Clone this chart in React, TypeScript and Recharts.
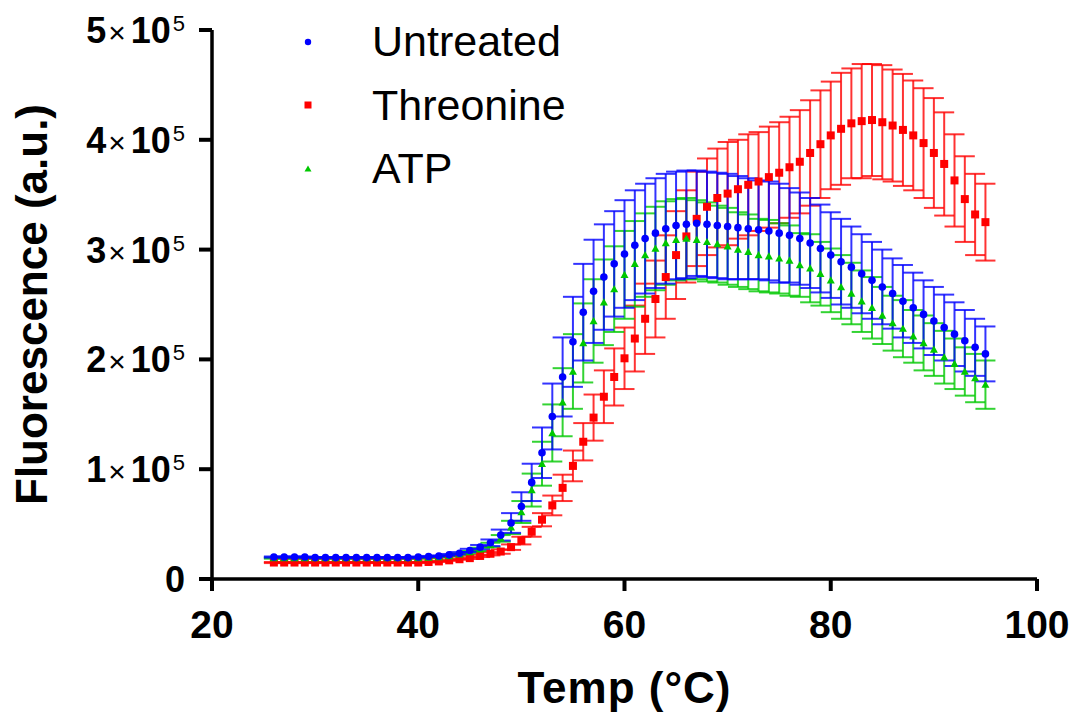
import React from 'react';
import { ScatterChart, Scatter, XAxis, YAxis, ErrorBar, Legend, Label } from 'recharts';

const FONT = '"Liberation Sans", Arial, Helvetica, sans-serif';

const BLUE = '#0000FF';
const RED = '#FF0000';
const GREEN = '#00C800';

// Temperatures (°C), one reading per degree
const temps = [
  26, 27, 28, 29, 30, 31, 32, 33, 34, 35,
  36, 37, 38, 39, 40, 41, 42, 43, 44, 45,
  46, 47, 48, 49, 50, 51, 52, 53, 54, 55,
  56, 57, 58, 59, 60, 61, 62, 63, 64, 65,
  66, 67, 68, 69, 70, 71, 72, 73, 74, 75,
  76, 77, 78, 79, 80, 81, 82, 83, 84, 85,
  86, 87, 88, 89, 90, 91, 92, 93, 94, 95,
];

// Fluorescence values, in units of 10^5 a.u.
const untreated = [
  0.20, 0.20, 0.20, 0.20, 0.195, 0.195, 0.195, 0.195, 0.195, 0.195,
  0.195, 0.195, 0.195, 0.195, 0.20, 0.205, 0.21, 0.22, 0.235, 0.26,
  0.29, 0.33, 0.40, 0.51, 0.66, 0.88, 1.15, 1.48, 1.84, 2.16,
  2.43, 2.62, 2.75, 2.87, 2.96, 3.04, 3.10, 3.15, 3.19, 3.22,
  3.23, 3.24, 3.23, 3.22, 3.21, 3.20, 3.19, 3.18, 3.17, 3.15,
  3.13, 3.10, 3.06, 3.01, 2.95, 2.89, 2.84, 2.78, 2.72, 2.66,
  2.60, 2.53, 2.47, 2.41, 2.35, 2.29, 2.23, 2.17, 2.11, 2.05,
];
const untreatedErr = [
  0.005, 0.005, 0.005, 0.005, 0.005, 0.005, 0.005, 0.005, 0.005, 0.005,
  0.005, 0.005, 0.005, 0.005, 0.005, 0.005, 0.005, 0.008, 0.01, 0.015,
  0.02, 0.03, 0.05, 0.09, 0.13, 0.17, 0.23, 0.30, 0.36, 0.41,
  0.44, 0.47, 0.48, 0.48, 0.49, 0.50, 0.50, 0.50, 0.50, 0.49,
  0.49, 0.48, 0.48, 0.48, 0.48, 0.47, 0.46, 0.45, 0.45, 0.45,
  0.43, 0.42, 0.41, 0.40, 0.39, 0.39, 0.37, 0.36, 0.35, 0.34,
  0.32, 0.33, 0.32, 0.31, 0.31, 0.30, 0.29, 0.28, 0.26, 0.25,
];

const threonine = [
  0.15, 0.15, 0.15, 0.15, 0.15, 0.15, 0.15, 0.15, 0.15, 0.15,
  0.15, 0.15, 0.15, 0.15, 0.15, 0.155, 0.16, 0.17, 0.18, 0.19,
  0.21, 0.23, 0.25, 0.29, 0.35, 0.43, 0.54, 0.67, 0.83, 1.03,
  1.25, 1.47, 1.66, 1.84, 2.01, 2.19, 2.37, 2.55, 2.75, 2.95,
  3.12, 3.28, 3.39, 3.47, 3.51, 3.55, 3.59, 3.62, 3.66, 3.70,
  3.75, 3.80, 3.88, 3.96, 4.04, 4.10, 4.15, 4.17, 4.18, 4.16,
  4.13, 4.09, 4.04, 3.97, 3.88, 3.78, 3.63, 3.46, 3.32, 3.25,
];
const threonineErr = [
  0.005, 0.005, 0.005, 0.005, 0.005, 0.005, 0.005, 0.005, 0.005, 0.005,
  0.005, 0.005, 0.005, 0.005, 0.005, 0.005, 0.005, 0.005, 0.005, 0.008,
  0.01, 0.015, 0.02, 0.025, 0.035, 0.045, 0.06, 0.09, 0.12, 0.14,
  0.17, 0.21, 0.24, 0.26, 0.28, 0.30, 0.32, 0.35, 0.38, 0.40,
  0.42, 0.43, 0.44, 0.45, 0.47, 0.45, 0.46, 0.45, 0.46, 0.46,
  0.46, 0.47, 0.48, 0.49, 0.49, 0.51, 0.50, 0.52, 0.51, 0.52,
  0.51, 0.51, 0.50, 0.50, 0.50, 0.47, 0.42, 0.39, 0.37, 0.35,
];

const atp = [
  0.19, 0.19, 0.19, 0.19, 0.19, 0.19, 0.19, 0.19, 0.19, 0.19,
  0.19, 0.19, 0.19, 0.19, 0.19, 0.195, 0.20, 0.21, 0.225, 0.245,
  0.27, 0.31, 0.37, 0.47, 0.61, 0.81, 1.05, 1.33, 1.61, 1.89,
  2.15, 2.35, 2.52, 2.64, 2.77, 2.87, 2.95, 3.01, 3.06, 3.09,
  3.10, 3.09, 3.07, 3.05, 3.03, 3.00, 2.98, 2.95, 2.94, 2.92,
  2.90, 2.86, 2.83, 2.78, 2.72, 2.66, 2.60, 2.53, 2.47, 2.40,
  2.33, 2.28, 2.21, 2.15, 2.09, 2.02, 1.96, 1.89, 1.83, 1.77,
];
const atpErr = [
  0.005, 0.005, 0.005, 0.005, 0.005, 0.005, 0.005, 0.005, 0.005, 0.005,
  0.005, 0.005, 0.005, 0.005, 0.005, 0.005, 0.005, 0.005, 0.008, 0.01,
  0.015, 0.02, 0.03, 0.06, 0.10, 0.15, 0.20, 0.26, 0.31, 0.34,
  0.36, 0.38, 0.39, 0.39, 0.40, 0.39, 0.38, 0.38, 0.38, 0.37,
  0.37, 0.36, 0.36, 0.35, 0.35, 0.34, 0.34, 0.33, 0.33, 0.32,
  0.32, 0.29, 0.31, 0.29, 0.29, 0.29, 0.28, 0.28, 0.28, 0.26,
  0.25, 0.26, 0.24, 0.25, 0.24, 0.24, 0.23, 0.22, 0.22, 0.22,
];

const xTicks = [20, 40, 60, 80, 100];
const yTicks = [0, 1, 2, 3, 4, 5];

const toPoints = (vals: number[], errs: number[]) =>
  temps.map((t, i) => ({ temp: t, value: vals[i], err: errs[i] }));

const untreatedData = toPoints(untreated, untreatedErr);
const threonineData = toPoints(threonine, threonineErr);
const atpData = toPoints(atp, atpErr);

// Marker shapes
const BlueDot = (p: any) => <circle cx={p.cx} cy={p.cy} r={3.8} fill={BLUE} />;
const RedSquare = (p: any) => (
  <rect x={p.cx - 4} y={p.cy - 4} width={8} height={8} fill={RED} />
);
const GreenTriangle = (p: any) => (
  <polygon
    points={`${p.cx},${p.cy - 4} ${p.cx + 4},${p.cy + 3.2} ${p.cx - 4},${p.cy + 3.2}`}
    fill={GREEN}
  />
);

const YTick = ({ x, y, payload }: any) => {
  const v = payload.value;
  if (v === 0) {
    return (
      <text x={x} y={y} dy={13} textAnchor="end" fontFamily={FONT} fontWeight="bold" fontSize={36} fill="#000">
        0
      </text>
    );
  }
  return (
    <text x={x} y={y} dy={13} textAnchor="end" fontFamily={FONT} fill="#000">
      <tspan fontSize={36} fontWeight="bold">{v}</tspan>
      <tspan fontSize={30} dx={2}>×</tspan>
      <tspan fontSize={36} fontWeight="bold" dx={5}>10</tspan>
      <tspan fontSize={22} dx={2} dy={-12}>5</tspan>
    </text>
  );
};

const XTick = ({ x, y, payload }: any) => (
  <text x={x} y={y} dy={28} textAnchor="middle" fontFamily={FONT} fontWeight="bold" fontSize={39} fill="#000">
    {payload.value}
  </text>
);

const XTitle = (props: any) => {
  const { x, y, width } = props.viewBox;
  return (
    <text
      x={x + width / 2}
      y={y + 124}
      textAnchor="middle"
      fontFamily={FONT}
      fontWeight="bold"
      fontSize={44}
      letterSpacing={1}
      fill="#000"
    >
      Temp (°C)
    </text>
  );
};

const YTitle = (props: any) => {
  const { y, height } = props.viewBox;
  const cx = 39;
  const cy = y + height / 2;
  return (
    <text
      x={cx}
      y={cy}
      transform={`rotate(-90, ${cx}, ${cy})`}
      textAnchor="middle"
      fontFamily={FONT}
      fontWeight="bold"
      fontSize={44}
      fill="#000"
    >
      Fluorescence (a.u.)
    </text>
  );
};

const legendItems = [
  { name: 'Untreated', marker: <circle cx={10} cy={10} r={3.2} fill={BLUE} /> },
  { name: 'Threonine', marker: <rect x={6.5} y={6.5} width={7} height={7} fill={RED} /> },
  { name: 'ATP', marker: <polygon points="10,6.5 13.5,12.5 6.5,12.5" fill={GREEN} /> },
];

const LegendContent = () => (
  <div>
    {legendItems.map((item) => (
      <div key={item.name} style={{ display: 'flex', alignItems: 'center', height: 63.5 }}>
        <svg width={20} height={20}>{item.marker}</svg>
        <span style={{ marginLeft: 54, fontFamily: FONT, fontSize: 43, lineHeight: 1, color: '#000' }}>
          {item.name}
        </span>
      </div>
    ))}
  </div>
);

export default function App() {
  return (
    <div style={{ position: 'relative', width: 1079, height: 715 }}>
      <ScatterChart width={1079} height={715} margin={{ top: 22, right: 50, bottom: 0, left: 0 }}>
        <XAxis
          dataKey="temp"
          type="number"
          domain={[20, 100]}
          ticks={xTicks}
          interval={0}
          height={144}
          tickSize={12}
          tickMargin={19}
          tick={<XTick />}
          axisLine={{ stroke: '#000', strokeWidth: 3.5 }}
          tickLine={{ stroke: '#000', strokeWidth: 4 }}
        >
          <Label content={XTitle} />
        </XAxis>
        <YAxis
          dataKey="value"
          type="number"
          domain={[0, 5]}
          ticks={yTicks}
          interval={0}
          width={204}
          tickSize={13}
          tickMargin={14}
          tick={<YTick />}
          axisLine={{ stroke: '#000', strokeWidth: 3.5 }}
          tickLine={{ stroke: '#000', strokeWidth: 4 }}
        >
          <Label content={YTitle} />
        </YAxis>
        <Legend
          layout="vertical"
          align="center"
          verticalAlign="middle"
          content={<LegendContent />}
          wrapperStyle={{ position: 'absolute', left: 290, top: 2, width: 320, height: 192 }}
        />
        <Scatter name="Threonine" data={threonineData} shape={RedSquare} isAnimationActive={false}>
          <ErrorBar dataKey="err" direction="y" width={10} strokeWidth={2} stroke={RED} strokeOpacity={0.8} />
        </Scatter>
        <Scatter name="ATP" data={atpData} shape={GreenTriangle} isAnimationActive={false}>
          <ErrorBar dataKey="err" direction="y" width={10} strokeWidth={2} stroke={GREEN} strokeOpacity={0.8} />
        </Scatter>
        <Scatter name="Untreated" data={untreatedData} shape={BlueDot} isAnimationActive={false}>
          <ErrorBar dataKey="err" direction="y" width={10} strokeWidth={2} stroke={BLUE} strokeOpacity={0.8} />
        </Scatter>
      </ScatterChart>
    </div>
  );
}
